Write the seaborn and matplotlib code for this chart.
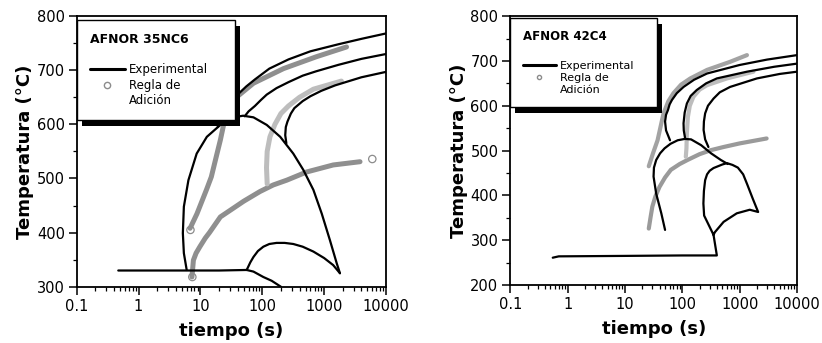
import pandas as pd
import matplotlib
matplotlib.use("Agg")
import matplotlib.pyplot as plt
from matplotlib.lines import Line2D
from matplotlib.patches import Rectangle
import seaborn as sns

# =========================
# DATA  (time in s, temperature in C)
# =========================
x_ticks = [0.1, 1, 10, 100, 1000, 10000]
x_tick_labels = ["0.1", "1", "10", "100", "1000", "10000"]

# ---- AFNOR 35NC6 : experimental ----
ms35_t = [0.47, 5, 20, 56]
ms35_T = [330, 330, 330, 331]
low35_t = [56, 72, 104, 142, 200]
low35_T = [331, 328, 318, 311, 300]
bump35_t = [56, 64, 72, 85, 104, 130, 170, 230, 317, 450, 670, 1000, 1400, 1800]
bump35_T = [331, 345, 355, 366, 374, 379, 381, 381, 379, 374, 365, 353, 340, 325]
c35_t = [6, 5.4, 5.2, 5.4, 6.4, 8.7, 12.7, 21, 34, 49, 72, 118, 195, 317, 460, 670, 915, 1240, 1600, 1800]
c35_T = [331, 362, 399, 448, 497, 546, 577, 599, 613, 616, 613, 599, 577, 546, 516, 479, 435, 386, 343, 325]
f1_35_t = [19, 22, 26, 32, 40, 55, 76, 130, 265, 600, 1700, 4000, 10000]
f1_35_T = [595, 608, 621, 638, 655, 670, 683, 703, 720, 735, 748, 758, 768]
f2_35_t = [52, 60, 76, 95, 118, 170, 265, 450, 740, 1700, 4000, 10000]
f2_35_T = [615, 624, 634, 645, 655, 667, 678, 690, 698, 710, 721, 730]
f3_35_t = [245, 235, 240, 255, 290, 330, 450, 600, 900, 1500, 4000, 10000]
f3_35_T = [565, 580, 595, 605, 620, 630, 643, 652, 662, 672, 687, 697]

# ---- AFNOR 35NC6 : regla de adicion ----
g1_35_t = [6.8, 8.8, 12.6, 15, 18, 21, 24, 28.5, 39, 72, 220, 750, 2300]
g1_35_T = [408, 435, 480, 503, 540, 571, 602, 633, 651, 676, 703, 725, 743]
g2_35_t = [7.3, 7.7, 8.5, 9.8, 12, 14, 21, 31, 50, 92, 150, 250, 520, 1400, 3800]
g2_35_T = [318, 349, 362, 374, 390, 400, 429, 442, 458, 476, 488, 497, 512, 525, 531]
g3_35_t = [120, 117, 120, 133, 160, 200, 265, 400, 670, 1900]
g3_35_T = [490, 520, 550, 577, 600, 620, 634, 650, 665, 680]
pts35_t = [6.9, 7.4, 6000]
pts35_T = [405, 318, 536]

# ---- AFNOR 42C4 : experimental ----
ms42_t = [0.55, 0.7, 10, 100, 400, 350]
ms42_T = [261, 264, 265, 266, 266, 312]
loop42_t = [350, 240, 233, 238, 250, 270, 300, 350, 400, 500, 600, 750, 930, 1150, 1350, 1700, 2100, 1500, 890, 525, 370, 350]
loop42_T = [312, 355, 382, 410, 434, 447, 455, 461, 464, 469, 472, 468, 462, 447, 425, 392, 363, 368, 360, 341, 318, 312]
c42_t = [50, 43, 35, 31.5, 32, 35, 41, 49, 62, 83, 110, 142, 213, 316, 470, 620]
c42_T = [323, 360, 404, 442, 462, 479, 494, 505, 515, 523, 526, 525, 512, 494, 479, 470]
f1_42_t = [61, 52, 50, 52, 56, 60, 66, 80, 105, 160, 270, 1000, 3000, 10000]
f1_42_T = [523, 545, 565, 580, 590, 603, 613, 628, 642, 658, 672, 691, 703, 713]
f2_42_t = [112, 106, 105, 110, 120, 140, 178, 260, 400, 1340, 4000, 10000]
f2_42_T = [527, 545, 561, 585, 605, 622, 635, 650, 661, 676, 687, 694]
f3_42_t = [285, 250, 235, 238, 250, 280, 350, 450, 680, 2000, 5000, 10000]
f3_42_T = [508, 525, 546, 565, 583, 600, 616, 630, 642, 661, 671, 676]

# ---- AFNOR 42C4 : regla de adicion ----
g1_42_t = [26, 31, 37, 47, 57, 70, 95, 138, 270, 680, 1340]
g1_42_T = [465, 495, 523, 583, 610, 628, 647, 661, 680, 698, 713]
g2_42_t = [26, 28, 30, 34, 40, 50, 63, 90, 123, 200, 316, 525, 1000, 2950]
g2_42_T = [326, 352, 375, 398, 419, 440, 457, 470, 479, 492, 501, 508, 516, 527]
g3_42_t = [115, 118, 120, 125, 135, 156, 200, 270, 600, 1740]
g3_42_T = [486, 505, 540, 575, 600, 620, 636, 646, 661, 676]

# =========================
# STYLE
# =========================
sns.set_style("ticks")
plt.rcParams["font.family"] = ["DejaVu Sans"]
plt.rcParams["axes.linewidth"] = 1.3
plt.rcParams["text.color"] = "black"
plt.rcParams["axes.labelcolor"] = "black"
plt.rcParams["xtick.color"] = "black"
plt.rcParams["ytick.color"] = "black"

fig = plt.figure(figsize=(8.22, 3.43), dpi=100)
ax1 = fig.add_axes([0.0933, 0.164, 0.3763, 0.789])
ax2 = fig.add_axes([0.6208, 0.169, 0.3488, 0.784])


def draw_panel(ax, exp, add, add_colors, band_lw, pts, title, ylim, yticks,
               leg_width, leg_top, fs, title_fs, msize):
    for (t, T), c in zip(add, add_colors):
        df = pd.DataFrame({"t": t, "T": T})
        sns.lineplot(data=df, x="t", y="T", sort=False, estimator=None,
                     color=c, linewidth=band_lw, ax=ax, zorder=2)
    for t, T in exp:
        df = pd.DataFrame({"t": t, "T": T})
        sns.lineplot(data=df, x="t", y="T", sort=False, estimator=None,
                     color="black", linewidth=1.6, ax=ax, zorder=3)
    if pts is not None:
        sns.scatterplot(x=pts[0], y=pts[1], marker="o", s=28,
                        facecolor="none", edgecolor="#8c8c8c",
                        linewidth=0.9, ax=ax, zorder=3)

    ax.set_xscale("log")
    ax.set_xlim(0.1, 10000)
    ax.set_ylim(*ylim)
    ax.set_xticks(x_ticks, labels=x_tick_labels)
    ax.set_yticks(yticks)
    ax.set_yticks([v + 50 for v in yticks[:-1]], minor=True)
    ax.tick_params(axis="both", which="major", direction="out",
                   length=5.5, width=1.1, labelsize=10.5, pad=3)
    ax.tick_params(axis="both", which="minor", direction="out",
                   length=3, width=0.9)
    for s in ax.spines.values():
        s.set_visible(True)
        s.set_color("black")

    ax.set_xlabel("tiempo (s)", fontsize=13, fontweight="bold", labelpad=6)
    ax.set_ylabel("Temperatura (°C)", fontsize=13, fontweight="bold", labelpad=2)

    handles = [
        Line2D([], [], color="black", linewidth=2.2),
        Line2D([], [], linestyle="", marker="o", markersize=msize,
               markerfacecolor="none", markeredgecolor="#8c8c8c"),
        Line2D([], [], linestyle="", marker=""),
    ]
    leg = ax.legend(handles, ["Experimental", "Regla de", "Adición"],
                    title=title + "\n ", loc="upper left",
                    bbox_to_anchor=(0, 0, leg_width, leg_top), mode="expand",
                    borderaxespad=0, fancybox=False, framealpha=1,
                    edgecolor="black", fontsize=fs, handlelength=3.0,
                    handletextpad=0.35, labelspacing=0.2, borderpad=1.1,
                    alignment="left",
                    title_fontproperties={"weight": "bold", "size": title_fs})
    leg.get_frame().set_linewidth(1.0)
    leg.set_zorder(6)
    return leg


leg1 = draw_panel(
    ax1,
    exp=[(ms35_t, ms35_T), (low35_t, low35_T), (bump35_t, bump35_T),
         (c35_t, c35_T), (f1_35_t, f1_35_T), (f2_35_t, f2_35_T), (f3_35_t, f3_35_T)],
    add=[(g1_35_t, g1_35_T), (g2_35_t, g2_35_T), (g3_35_t, g3_35_T)],
    add_colors=["#8f8f8f", "#8f8f8f", "#bdbdbd"], band_lw=3.6,
    pts=(pts35_t, pts35_T), title="AFNOR 35NC6",
    ylim=(300, 800), yticks=[300, 400, 500, 600, 700, 800],
    leg_width=0.511, leg_top=1 - 4 / 270.7, fs=8.5, title_fs=9, msize=4.5)

leg2 = draw_panel(
    ax2,
    exp=[(ms42_t, ms42_T), (loop42_t, loop42_T), (c42_t, c42_T),
         (f1_42_t, f1_42_T), (f2_42_t, f2_42_T), (f3_42_t, f3_42_T)],
    add=[(g1_42_t, g1_42_T), (g2_42_t, g2_42_T), (g3_42_t, g3_42_T)],
    add_colors=["#a3a3a3", "#9a9a9a", "#bdbdbd"], band_lw=3.0,
    pts=None, title="AFNOR 42C4",
    ylim=(200, 800), yticks=[200, 300, 400, 500, 600, 700, 800],
    leg_width=0.513, leg_top=1 - 2 / 269, fs=8, title_fs=8.5, msize=3)

# =========================
# LEGEND DROP SHADOWS
# =========================
fig.canvas.draw()
for ax, leg in [(ax1, leg1), (ax2, leg2)]:
    bb = leg.get_window_extent()
    inv = ax.transAxes.inverted()
    x0, y0 = inv.transform((bb.x0 + 5, bb.y0 - 6))
    x1, y1 = inv.transform((bb.x1 + 5, bb.y1 - 6))
    ax.add_patch(Rectangle((x0, y0), x1 - x0, y1 - y0, transform=ax.transAxes,
                           facecolor="black", edgecolor="none",
                           zorder=5.5, clip_on=False))

fig.savefig("out.png", dpi=100)
plt.close(fig)
